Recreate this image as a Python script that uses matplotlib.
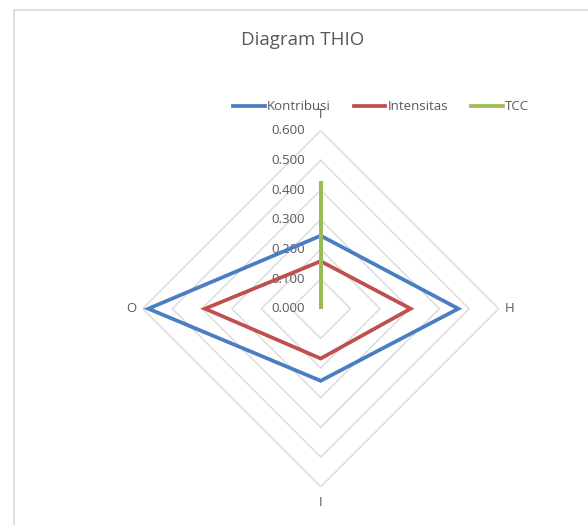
import numpy as np
import matplotlib
matplotlib.use("Agg")
import matplotlib.pyplot as plt
from matplotlib.lines import Line2D

categories = ["T", "H", "I", "O"]
kontribusi = [0.246, 0.464, 0.243, 0.581]
intensitas = [0.160, 0.303, 0.168, 0.390]
tcc = [0.425, 0.0, 0.0, 0.0]
ring_levels = [0.1, 0.2, 0.3, 0.4, 0.5, 0.6]
tick_levels = [0.0, 0.1, 0.2, 0.3, 0.4, 0.5, 0.6]

plt.rcParams["font.family"] = ["Open Sans", "DejaVu Sans"]

W, H = 588, 525
fig = plt.figure(figsize=(W / 100, H / 100), dpi=100)
fig.patch.set_facecolor("white")

# chart frame (top and left edges)
fig.add_artist(Line2D([13.5 / W, 1.0], [1 - 9.5 / H, 1 - 9.5 / H], color="#d9d9d9", lw=1.2))
fig.add_artist(Line2D([13.5 / W, 13.5 / W], [1 - 9.5 / H, 0.0], color="#d9d9d9", lw=1.2))

cx, cy, R = 320.7, 308.7, 178.0
ax = fig.add_axes([(cx - R) / W, 1 - (cy + R) / H, 2 * R / W, 2 * R / H], projection="polar")
ax.set_theta_offset(np.pi / 2)
ax.set_theta_direction(-1)
ax.set_ylim(0, 0.6)
ax.grid(False)
ax.spines["polar"].set_visible(False)
ax.set_xticks([])
ax.set_yticks([])
ax.patch.set_alpha(0)

angles = np.arange(len(categories)) * 2 * np.pi / len(categories)
closed = np.append(angles, angles[0])

for lvl in ring_levels:
    ax.plot(closed, [lvl] * (len(categories) + 1), color="#d9d9d9", lw=1.0, zorder=1)

def close(vals):
    return list(vals) + [vals[0]]

LW = 2.7
ax.plot(closed, close(kontribusi), color="#4a7ec2", lw=LW, zorder=3, solid_joinstyle="miter")
ax.plot(closed, close(intensitas), color="#c0504d", lw=LW, zorder=3, solid_joinstyle="miter")
ax.plot(closed, close(tcc), color="#9bbb59", lw=LW, zorder=4, solid_joinstyle="miter")

# category labels
label_r = {"T": 0.655, "H": 0.637, "I": 0.652, "O": 0.637}
for ang, cat in zip(angles, categories):
    ax.text(ang, label_r[cat], cat, ha="center", va="center", fontsize=9.5,
            color="#595959", zorder=0)

# radial value labels, left of the top axis
for v in tick_levels:
    ax.annotate(f"{v:.3f}", xy=(0, v), xytext=(-11.5, 0), textcoords="offset points",
                ha="right", va="center", fontsize=9.5, color="#595959", zorder=2)

fig.text(303 / W, 1 - 40 / H, "Diagram THIO", ha="center", va="center",
         fontsize=13.5, color="#595959")

handles = [Line2D([], [], color="#4a7ec2", lw=LW),
           Line2D([], [], color="#c0504d", lw=LW),
           Line2D([], [], color="#9bbb59", lw=LW)]
leg = fig.legend(handles, ["Kontribusi", "Intensitas", "TCC"], loc="center",
                 bbox_to_anchor=(381 / W, 1 - 107 / H), ncol=3, frameon=False,
                 fontsize=9.5, handlelength=2.4, handletextpad=0.15, columnspacing=1.75,
                 labelcolor="#595959")

fig.savefig("out.png", dpi=100)
